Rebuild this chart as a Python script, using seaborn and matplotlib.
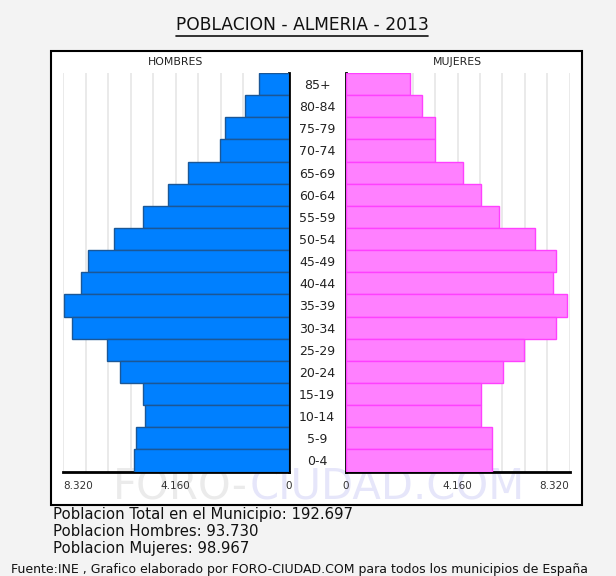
import numpy as np
import pandas as pd
import matplotlib
matplotlib.use('Agg')
import matplotlib.pyplot as plt
from matplotlib.patches import Rectangle
from matplotlib.lines import Line2D
import seaborn as sns

# datos (Almeria 2013)
edades = ['85+', '80-84', '75-79', '70-74', '65-69', '60-64', '55-59', '50-54', '45-49',
          '40-44', '35-39', '30-34', '25-29', '20-24', '15-19', '10-14', '5-9', '0-4']
hombres = [1090, 1590, 2350, 2510, 3690, 4440, 5360, 6450, 7390,
           7640, 8290, 7970, 6700, 6200, 5360, 5280, 5620, 5710]
mujeres = [2400, 2840, 3340, 3340, 4350, 5030, 5700, 7050, 7800,
           7710, 8220, 7800, 6640, 5860, 5030, 5030, 5440, 5440]
ticks = [0, 4160, 8320]
tick_labels = ['0', '4.160', '8.320']
xmax = 8320

sns.set_style('white')
plt.rcParams['font.family'] = ['DejaVu Sans']

df = pd.DataFrame({'edad': edades, 'hombres': hombres, 'mujeres': mujeres})

W, H = 616, 576
def fx(px):
    return px / W
def fy(py):
    return 1 - py / H

fig = plt.figure(figsize=(6.16, 5.76), dpi=100, facecolor='#f3f3f3')

# recuadro blanco
fig.patches.append(Rectangle((fx(51), fy(505)), (582 - 51) / W, (505 - 51) / H,
                             transform=fig.transFigure, facecolor='white',
                             edgecolor='black', lw=1.5, zorder=-2))

# marca de agua
fig.text(fx(248), fy(487), 'FORO-', ha='right', va='center', fontsize=30,
         color='#ebebeb', zorder=-1)
fig.text(fx(250), fy(487), 'CIUDAD.COM', ha='left', va='center', fontsize=30,
         color='#e6e6fa', zorder=-1)

y0, y1 = 73, 471.5
axL = fig.add_axes([fx(63), fy(y1), (288.5 - 63) / W, (y1 - y0) / H])
axR = fig.add_axes([fx(345.5), fy(y1), (569.5 - 345.5) / W, (y1 - y0) / H])

sns.barplot(data=df, x='hombres', y='edad', orient='h', color='#0080ff', saturation=1,
            edgecolor='#1b5796', linewidth=1, width=1, ax=axL, zorder=3)
sns.barplot(data=df, x='mujeres', y='edad', orient='h', color='#ff80ff', saturation=1,
            edgecolor='#ff40ff', linewidth=1, width=1, ax=axR, zorder=3)

grid = np.arange(0, xmax + 1, 832)
for ax in (axL, axR):
    ax.patch.set_alpha(0)
    ax.set_ylim(len(edades) - 0.5, -0.5)
    ax.set_xticks(ticks)
    ax.set_xticklabels(tick_labels, fontsize=7.5, color='#333333')
    ax.set_xticks(grid, minor=True)
    ax.xaxis.grid(True, which='both', color='#e8e8e8', lw=1.3, zorder=0)
    ax.set_axisbelow(True)
    ax.tick_params(axis='x', which='both', length=0, pad=6.5)
    ax.set_xlabel('')
    ax.set_ylabel('')
    ax.spines['top'].set_visible(False)
    ax.spines['bottom'].set_linewidth(2)
    ax.spines['bottom'].set_color('black')

axL.set_xlim(xmax, 0)
axR.set_xlim(0, xmax)
# etiquetas de los extremos alineadas hacia dentro
axL.get_xticklabels()[2].set_ha('left')
axR.get_xticklabels()[2].set_ha('right')

axL.spines['left'].set_visible(False)
axL.spines['right'].set_linewidth(2)
axL.spines['right'].set_color('black')
axL.set_yticks([])
axR.spines['right'].set_visible(False)
axR.spines['left'].set_linewidth(2)
axR.spines['left'].set_color('black')
axR.tick_params(axis='y', length=0, pad=20.5)
for lab in axR.get_yticklabels():
    lab.set_ha('center')
    lab.set_fontsize(9)
    lab.set_color('#222222')

fig.text(fx(176), fy(62), 'HOMBRES', ha='center', va='center', fontsize=7.8, color='#222222')
fig.text(fx(457), fy(62), 'MUJERES', ha='center', va='center', fontsize=7.8, color='#222222')

# titulo subrayado
t = fig.text(fx(302), fy(25), 'POBLACION - ALMERIA - 2013', ha='center', va='center',
             fontsize=12.3, color='#111111')
r = fig.canvas.get_renderer()
bb = t.get_window_extent(renderer=r)
fig.lines.append(Line2D([bb.x0 / W, bb.x1 / W], [(bb.y0 - 2) / H, (bb.y0 - 2) / H],
                        transform=fig.transFigure, color='#111111', lw=1.2))

fig.text(fx(53), fy(515), 'Poblacion Total en el Municipio: 192.697', ha='left', va='center',
         fontsize=10.7, color='#111111')
fig.text(fx(53), fy(532), 'Poblacion Hombres: 93.730', ha='left', va='center',
         fontsize=10.7, color='#111111')
fig.text(fx(53), fy(549), 'Poblacion Mujeres: 98.967', ha='left', va='center',
         fontsize=10.7, color='#111111')
fig.text(fx(588), fy(570), 'Fuente:INE , Grafico elaborado por FORO-CIUDAD.COM para todos los municipios de España',
         ha='right', va='center', fontsize=9, color='#111111')

fig.savefig('out.png', dpi=100, facecolor=fig.get_facecolor())
